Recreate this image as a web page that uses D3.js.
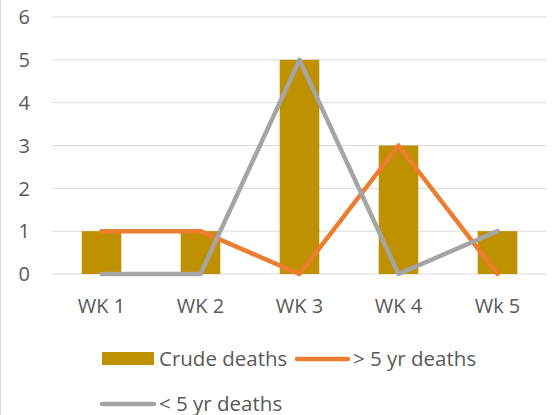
<!DOCTYPE html>
<html>
<head>
<meta charset="utf-8">
<script src="https://cdn.jsdelivr.net/npm/d3@7"></script>
<style>
  body { margin: 0; background: #fff; }
  #chart text { font-family: "Open Sans", "Noto Sans", sans-serif; fill: #595959; }
</style>
</head>
<body>
<div id="chart"></div>
<script>
var weeks = ["WK 1", "WK 2", "WK 3", "WK 4", "Wk 5"];
var crudeDeaths = [1, 1, 5, 3, 1];
var over5Deaths = [1, 1, 0, 3, 0];
var under5Deaths = [0, 0, 5, 0, 1];
var yTicks = [0, 1, 2, 3, 4, 5, 6];

var width = 555,
    height = 415;

var svg = d3.select("#chart")
    .append("svg")
    .attr("width", width)
    .attr("height", height);

// left frame edge
svg.append("line")
    .attr("x1", 0.5).attr("x2", 0.5)
    .attr("y1", 0).attr("y2", height)
    .attr("stroke", "#d9d9d9");

var x = d3.scaleBand().domain(weeks).range([52, 547]).paddingInner(0.6).paddingOuter(0.3);
var y = d3.scaleLinear().domain([0, 6]).range([274, 17]);

// gridlines
svg.selectAll(".grid")
    .data(yTicks)
    .enter().append("line")
    .attr("class", "grid")
    .attr("x1", 52).attr("x2", 547)
    .attr("y1", d => y(d)).attr("y2", d => y(d))
    .attr("stroke", "#d9d9d9")
    .attr("stroke-width", 1);

// y labels
svg.selectAll(".ylab")
    .data(yTicks)
    .enter().append("text")
    .attr("class", "ylab")
    .attr("x", 30)
    .attr("y", d => y(d))
    .attr("dy", "0.36em")
    .attr("text-anchor", "end")
    .style("font-size", "20px")
    .text(d => d);

// bars
svg.selectAll(".bar")
    .data(crudeDeaths)
    .enter().append("rect")
    .attr("class", "bar")
    .attr("x", (d, i) => x(weeks[i]))
    .attr("width", x.bandwidth())
    .attr("y", d => y(d))
    .attr("height", d => y(0) - y(d))
    .attr("fill", "#bf9000");

var line = d3.line()
    .x((d, i) => x(weeks[i]) + x.bandwidth() / 2)
    .y(d => y(d));

function drawLine(values, color) {
    svg.append("path")
        .datum(values)
        .attr("d", line)
        .attr("fill", "none")
        .attr("stroke", color)
        .attr("stroke-width", 4.5)
        .attr("stroke-linecap", "round")
        .attr("stroke-linejoin", "round");
}
drawLine(over5Deaths, "#ed7d31");
drawLine(under5Deaths, "#a5a5a5");

// x labels
svg.selectAll(".xlab")
    .data(weeks)
    .enter().append("text")
    .attr("class", "xlab")
    .attr("x", d => x(d) + x.bandwidth() / 2)
    .attr("y", 313)
    .attr("text-anchor", "middle")
    .style("font-size", "20px")
    .text(d => d);

// legend
var legend = svg.append("g").attr("class", "legend");

legend.append("rect")
    .attr("x", 102).attr("y", 352)
    .attr("width", 52).attr("height", 13)
    .attr("fill", "#bf9000");
legend.append("text")
    .attr("x", 159).attr("y", 366)
    .style("font-size", "20.5px")
    .text("Crude deaths");

legend.append("line")
    .attr("x1", 297).attr("x2", 348)
    .attr("y1", 359).attr("y2", 359)
    .attr("stroke", "#ed7d31").attr("stroke-width", 4.5)
    .attr("stroke-linecap", "round");
legend.append("text")
    .attr("x", 353).attr("y", 366)
    .style("font-size", "20.5px")
    .text("> 5 yr deaths");

legend.append("line")
    .attr("x1", 102).attr("x2", 154)
    .attr("y1", 404).attr("y2", 404)
    .attr("stroke", "#a5a5a5").attr("stroke-width", 4.5)
    .attr("stroke-linecap", "round");
legend.append("text")
    .attr("x", 159).attr("y", 411)
    .style("font-size", "20.5px")
    .text("< 5 yr deaths");
</script>
</body>
</html>
